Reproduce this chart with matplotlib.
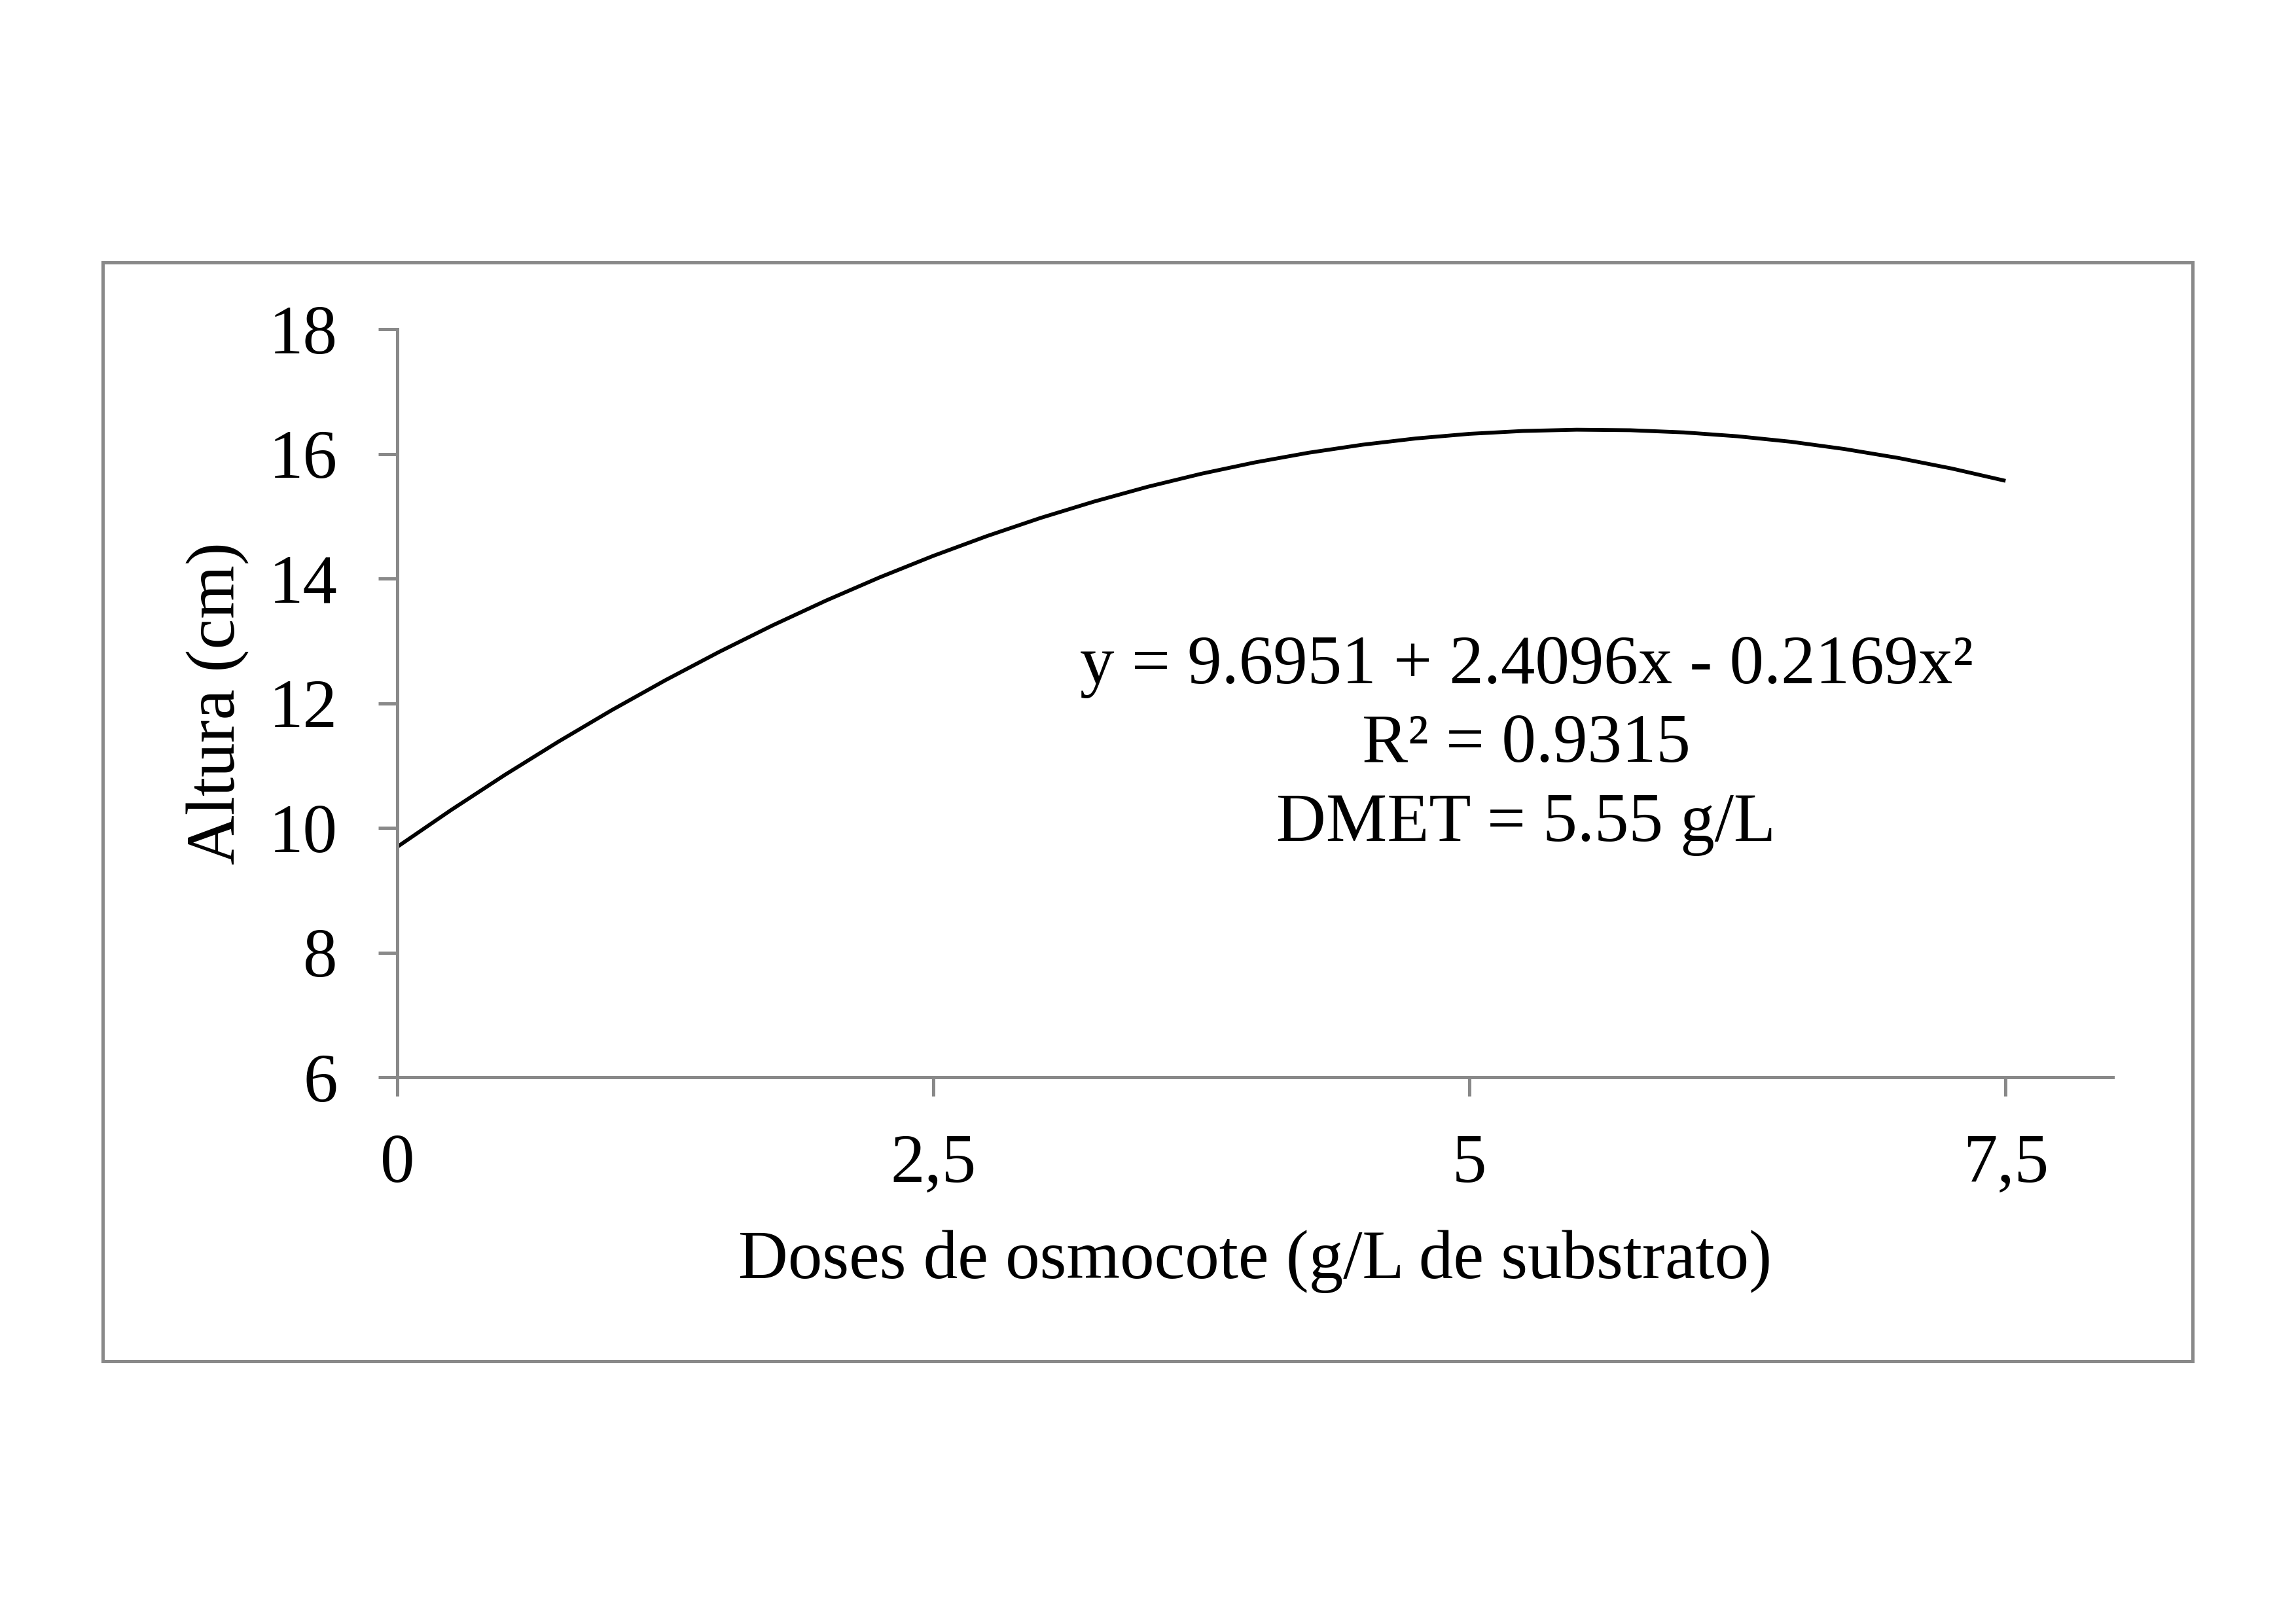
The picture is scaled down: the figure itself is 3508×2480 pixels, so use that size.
import matplotlib
matplotlib.use("Agg")
import matplotlib.pyplot as plt
from matplotlib.patches import Rectangle

# ---- data ----
dose = [0.00, 0.25, 0.50, 0.75, 1.00, 1.25, 1.50, 1.75, 2.00, 2.25, 2.50, 2.75,
        3.00, 3.25, 3.50, 3.75, 4.00, 4.25, 4.50, 4.75, 5.00, 5.25, 5.50, 5.75,
        6.00, 6.25, 6.50, 6.75, 7.00, 7.25, 7.50]
altura = [9.695, 10.284, 10.846, 11.380, 11.888, 12.368, 12.821, 13.248, 13.647,
          14.019, 14.364, 14.681, 14.972, 15.235, 15.472, 15.681, 15.863, 16.018,
          16.146, 16.247, 16.321, 16.367, 16.387, 16.379, 16.344, 16.282, 16.194,
          16.077, 15.934, 15.764, 15.567]
x_ticks = [0, 2.5, 5, 7.5]
x_ticklabels = ["0", "2,5", "5", "7,5"]
y_ticks = [6, 8, 10, 12, 14, 16, 18]
y_ticklabels = ["6", "8", "10", "12", "14", "16", "18"]
eq_lines = ["y = 9.6951 + 2.4096x - 0.2169x²", "R² = 0.9315", "DMET = 5.55 g/L"]
xlabel = "Doses de osmocote (g/L de substrato)"
ylabel = "Altura (cm)"

plt.rcParams["font.family"] = ["Liberation Serif", "DejaVu Serif"]
FS = 25.2
GRAY = "#898989"

W, H = 3508, 2480
fig = plt.figure(figsize=(W / 300, H / 300), dpi=300)
fig.patch.set_facecolor("white")

# outer chart frame
fl, ft, fr, fb = 157, 401, 3350, 2080
fig.patches.append(Rectangle((fl / W, 1 - fb / H), (fr - fl) / W, (fb - ft) / H,
                             transform=fig.transFigure, fill=False,
                             edgecolor=GRAY, linewidth=1.2, zorder=0))

al, at, ar, ab = 607, 503, 3228, 1646
ax = fig.add_axes([al / W, 1 - ab / H, (ar - al) / W, (ab - at) / H])
ax.set_facecolor("none")

ax.plot(dose, altura, color="black", linewidth=1.4, solid_capstyle="butt",
        solid_joinstyle="round", clip_on=False)

ax.set_xlim(0, 8)
ax.set_ylim(6, 18)
ax.set_xticks(x_ticks)
ax.set_xticklabels(x_ticklabels)
ax.set_yticks(y_ticks)
ax.set_yticklabels(y_ticklabels)

for s in ["top", "right"]:
    ax.spines[s].set_visible(False)
for s in ["left", "bottom"]:
    ax.spines[s].set_color(GRAY)
    ax.spines[s].set_linewidth(1.2)

ax.tick_params(axis="both", direction="out", length=7, width=1.2, color=GRAY,
               labelcolor="black", labelsize=FS)
ax.tick_params(axis="x", pad=13.8)
ax.tick_params(axis="y", pad=14.9)

ax.set_xlabel(xlabel, fontsize=FS, labelpad=12)
ax.set_ylabel(ylabel, fontsize=FS, labelpad=7)

# regression annotation
baselines = [1044, 1164, 1285]
for txt, by in zip(eq_lines, baselines):
    fig.text(2332 / W, 1 - by / H, txt, fontsize=FS, ha="center", va="baseline",
             color="black")

fig.savefig("out.png", dpi=300, facecolor="white")
